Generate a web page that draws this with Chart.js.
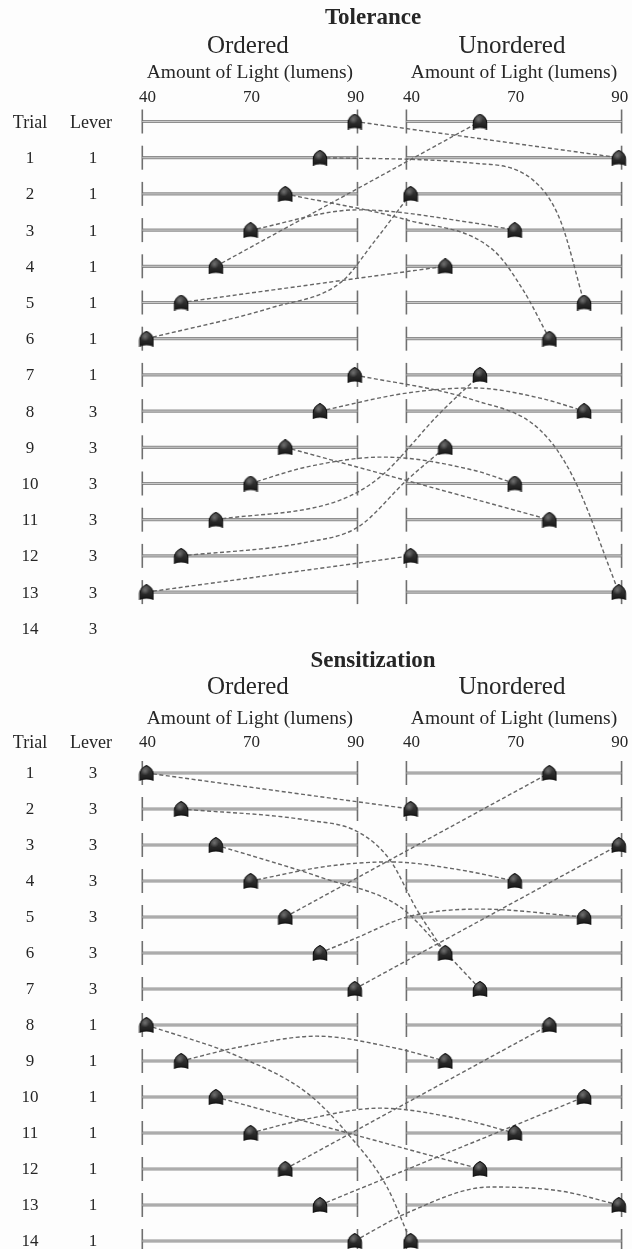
<!DOCTYPE html>
<html><head><meta charset="utf-8">
<script src="https://cdn.jsdelivr.net/npm/chart.js@4.4.1/dist/chart.umd.min.js"></script>
<style>
html,body{margin:0;padding:0;background:#fdfdfd;}
#wrap{position:relative;width:632px;height:1249px;overflow:hidden;background:#fdfdfd;}
.box{position:absolute;left:0;width:632px;}
canvas{display:block;}
</style></head><body>
<div id="wrap">
  <div class="box" style="top:0;height:640px"><canvas id="tol" width="632" height="640"></canvas></div>
  <div class="box" style="top:640px;height:609px"><canvas id="sen" width="632" height="609"></canvas></div>
</div>
<script>
// ---------------- data ----------------
// light level steps 0..6 on the 40–90 lumen rail; ticks carry these labels
const tickSteps  = [0, 3, 6];
const tickLabels = ['40', '70', '90'];
const panelNames = ['Ordered', 'Unordered'];
const axisTitle  = 'Amount of Light (lumens)';

// Tolerance
const tolTrials    = [1,2,3,4,5,6,7,8,9,10,11,12,13,14];
const tolLevers    = [1,1,1,1,1,1,1,3,3,3,3,3,3,3];
const tolOrdered   = [6,5,4,3,2,1,0,6,5,4,3,2,1,0];
const tolUnordered = [2,6,0,3,1,5,4,2,5,1,3,4,0,6];
// waypoints of the dashed connectors, per ordered row
const tolPaths = [
  [],
  [[9.41,1.15],[11.14,1.62],[11.92,2.72]],
  [[7.51,2.72],[9.99,3.55],[10.85,4.65]],
  [[6.10,2.44],[9.41,2.80]],
  [],
  [],
  [[3.65,5.13],[5.62,4.43],[6.53,3.36]],
  [[9.41,7.69],[11.34,8.52],[12.29,9.82]],
  [[7.51,7.50],[9.41,7.36],[11.34,7.64]],
  [],
  [[4.63,9.54],[6.82,9.27],[9.41,9.63]],
  [[5.58,10.46],[6.73,9.82],[8.46,8.05]],
  [[4.63,11.62],[6.10,11.20],[7.51,9.90]],
  []
];

// Sensitization
const senTrials    = [1,2,3,4,5,6,7,8,9,10,11,12,13,14];
const senLevers    = [3,3,3,3,3,3,3,1,1,1,1,1,1,1];
const senOrdered   = [0,1,2,3,4,5,6,0,1,2,3,4,5,6];
const senUnordered = [4,0,6,3,5,1,2,4,1,5,3,2,6,0];
const senPaths = [
  [],
  [[4.63,2.31],[6.10,2.64],[7.02,3.42],[7.80,4.81]],
  [[5.09,3.92],[7.31,4.72],[8.46,5.83]],
  [[5.29,3.58],[7.02,3.47],[9.03,3.69]],
  [],
  [[6.10,5.56],[7.51,5.00],[9.61,4.78]],
  [],
  [[2.69,8.89],[4.63,9.89],[5.78,11.0],[6.93,12.5]],
  [[2.69,8.61],[4.91,8.31],[7.02,8.61]],
  [],
  [[4.63,10.61],[6.73,10.31],[9.03,10.61]],
  [],
  [],
  [[7.51,13.22],[9.90,12.5],[11.92,12.61]]
];

// ---------------- layout constants ----------------
const XMIN = -4.22, XMAX = 13.99;   // combined axis: ordered 0..6, unordered shifted
const SHIFT = 7.61;
const RAIL_LO = -0.12, RAIL_HI = 6.08;
const BLOCK = 7;
const SERIF = '"Liberation Serif", "DejaVu Serif", serif';

function makeMarker() {
  const c = document.createElement('canvas');
  c.width = 16; c.height = 16;
  const g = c.getContext('2d');
  g.beginPath();
  g.moveTo(1.3, 15.2);
  g.lineTo(1.3, 9.5);
  g.bezierCurveTo(1.3, 4.6, 5.2, 2.0, 8, 0.6);
  g.bezierCurveTo(10.8, 2.0, 14.7, 4.6, 14.7, 9.5);
  g.lineTo(14.7, 15.2);
  g.quadraticCurveTo(8, 12.8, 1.3, 15.2);
  g.closePath();
  const gr = g.createLinearGradient(0, 0, 0, 16);
  gr.addColorStop(0, '#5c5c5c');
  gr.addColorStop(0.4, '#333333');
  gr.addColorStop(1, '#161616');
  g.fillStyle = gr; g.fill();
  g.lineWidth = 1.1; g.strokeStyle = '#101010'; g.stroke();
  // soft highlight
  const hl = g.createRadialGradient(6.5, 6, 0.5, 6.5, 6, 4.5);
  hl.addColorStop(0, 'rgba(150,150,150,0.55)');
  hl.addColorStop(1, 'rgba(150,150,150,0)');
  g.fillStyle = hl;
  g.fillRect(1, 1, 12, 12);
  return c;
}
const marker = makeMarker();

const labelPlugin = {
  id: 'sectionLabels',
  afterDraw(chart, args, o) {
    const {ctx} = chart;
    const x = chart.scales.x, y = chart.scales.y;
    ctx.save();
    ctx.fillStyle = '#262626';
    ctx.textAlign = 'center';
    ctx.textBaseline = 'middle';
    ctx.font = 'bold 23px ' + SERIF;
    ctx.fillText(o.title, 373, o.titleY);
    const mid = (RAIL_LO + RAIL_HI) / 2;
    [0, SHIFT].forEach((s, k) => {
      ctx.font = '25px ' + SERIF;
      ctx.fillText(panelNames[k], x.getPixelForValue(mid + s) - 2, o.panelY);
      ctx.font = '19.5px ' + SERIF;
      ctx.fillText(axisTitle, x.getPixelForValue(mid + s), o.axisY);
      ctx.font = '17px ' + SERIF;
      tickSteps.forEach((t, j) => ctx.fillText(tickLabels[j], x.getPixelForValue(t + s) + 1, o.tickY));
    });
    ctx.font = '18px ' + SERIF;
    const hy = o.headerRow === null ? o.tickY : y.getPixelForValue(o.headerRow) + 2;
    ctx.fillText('Trial', 30, hy);
    ctx.fillText('Lever', 91, hy);
    ctx.font = '17px ' + SERIF;
    o.trials.forEach((t, i) => {
      const py = y.getPixelForValue(t) + 1;
      ctx.fillText(String(t), 30, py);
      ctx.fillText(String(o.levers[i]), 93, py);
    });
    ctx.restore();
  }
};

function build(id, sec) {
  const rows = sec.ordered.map((_, i) => sec.rowOf(i));
  const railData = s => {
    const d = [];
    rows.forEach(r => { d.push({x: RAIL_LO + s, y: r}, {x: RAIL_HI + s, y: r}, {x: RAIL_HI + s, y: null}); });
    return d;
  };
  const datasets = [];
  // markers
  datasets.push({
    data: sec.ordered.map((v, i) => ({x: v, y: rows[i]})),
    showLine: false, pointStyle: marker, pointRadius: 7, order: 1, clip: false
  });
  datasets.push({
    data: sec.unordered.map((v, i) => ({x: v + SHIFT, y: rows[i]})),
    showLine: false, pointStyle: marker, pointRadius: 7, order: 1, clip: false
  });
  // connectors: ordered value -> same value in the unordered column of the same block
  sec.ordered.forEach((v, i) => {
    const b = Math.floor(i / BLOCK) * BLOCK;
    let j = b;
    for (let k = b; k < b + BLOCK; k++) if (sec.unordered[k] === v) j = k;
    const pts = [{x: v, y: rows[i]}]
      .concat(sec.paths[i].map(p => ({x: p[0], y: p[1]})))
      .concat([{x: sec.unordered[j] + SHIFT, y: rows[j]}]);
    datasets.push({
      data: pts, borderColor: '#666666', borderWidth: 1.4, borderDash: [4, 2.5],
      pointRadius: 0, cubicInterpolationMode: 'monotone', fill: false, order: 2, clip: false
    });
  });
  // rails
  [0, SHIFT].forEach(s => {
    datasets.push({
      data: railData(s), borderColor: '#8f8f8f', borderWidth: 3.2, spanGaps: false,
      pointStyle: 'line', rotation: 90, pointRadius: 12, pointBorderColor: '#6f6f6f',
      pointBorderWidth: 1.6, order: 4, clip: false
    });
    datasets.push({
      data: railData(s), borderColor: '#c9c9c9', borderWidth: 1, spanGaps: false,
      pointRadius: 0, order: 3, clip: false
    });
  });
  return new Chart(document.getElementById(id), {
    type: 'line',
    data: {datasets},
    options: {
      responsive: false, animation: false, events: [],
      layout: {autoPadding: false, padding: {left: 0, right: 0, top: sec.padTop, bottom: sec.padBottom}},
      scales: {
        x: {type: 'linear', min: XMIN, max: XMAX, display: false},
        y: {type: 'linear', reverse: true, min: sec.ymin, max: sec.ymax, display: false}
      },
      plugins: {
        legend: {display: false}, tooltip: {enabled: false},
        sectionLabels: sec.labels
      }
    },
    plugins: [labelPlugin]
  });
}

build('tol', {
  ordered: tolOrdered, unordered: tolUnordered, paths: tolPaths,
  rowOf: i => i, ymin: -0.5, ymax: 14, padTop: 103.4, padBottom: 11.7,
  labels: {title: 'Tolerance', titleY: 18, panelY: 46, axisY: 72.5, tickY: 98,
           headerRow: 0, trials: tolTrials, levers: tolLevers}
});
build('sen', {
  ordered: senOrdered, unordered: senUnordered, paths: senPaths,
  rowOf: i => i + 1, ymin: 0.5, ymax: 14.2, padTop: 115, padBottom: 0.8,
  labels: {title: 'Sensitization', titleY: 21, panelY: 47, axisY: 79, tickY: 103,
           headerRow: null, trials: senTrials, levers: senLevers}
});
</script>
</body></html>
